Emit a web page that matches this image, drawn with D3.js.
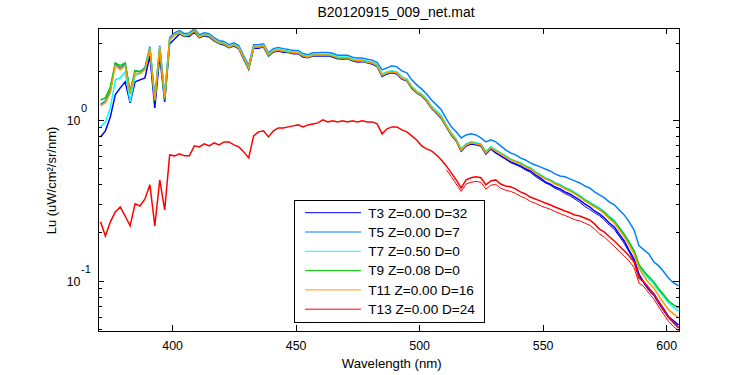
<!DOCTYPE html>
<html><head><meta charset="utf-8">
<script src="https://cdn.jsdelivr.net/npm/d3@7"></script>
<style>
body{margin:0;background:#fff}
svg{display:block}
text{font-family:"Liberation Sans",Arial,sans-serif;fill:#000}
</style>
</head><body>
<svg id="chart" width="750" height="375"></svg>
<script>
// ---------------- DATA ----------------
const wavelengths = [371,373,375,377,379,381,383,385,387,389,391,393,395,397,399,401,403,405,407,409,
411,413,415,417,419,421,423,425,427,429,431,433,435,437,439,441,443,445,447,449,
451,453,455,457,459,461,463,465,467,469,471,473,475,477,479,481,483,485,487,489,
491,493,495,497,499,501,503,505,507,509,511,513,515,517,519,521,523,525,527,529,
531,533,535,537,539,541,543,545,547,549,551,553,555,557,559,561,563,565,567,569,
571,573,575,577,579,581,583,585,587,589,591,593,595,597,599,601,603,605];

const seriesNames = ["T3 Z=0.00 D=32","T5 Z=0.00 D=7","T7 Z=0.50 D=0","T9 Z=0.08 D=0","T11 Z=0.00 D=16","T13 Z=0.00 D=24"];

const t3 = [0.784,0.855,1.044,1.430,1.580,1.722,1.275,1.722,1.772,1.824,
2.497,1.187,2.497,1.294,2.965,3.18,
3.42,3.29,3.31,3.50,3.24,3.33,3.27,3.10,2.98,2.92,
2.81,2.87,2.77,2.38,2.06,2.80,2.79,2.84,2.49,2.64,
2.68,2.63,2.62,2.57,2.58,2.46,2.43,2.49,2.50,2.49,
2.50,2.46,2.40,2.39,2.40,2.33,2.29,2.30,2.26,2.22,
2.14,1.86,1.93,1.96,1.93,1.79,1.75,1.57,1.47,1.41,
1.31,1.18,1.10,1.02,0.905,0.806,0.740,0.640,0.689,0.709,
0.700,0.689,0.614,0.660,
0.624,0.598,0.572,0.548,0.533,0.518,0.497,0.482,0.456,0.436,
0.412,0.400,0.383,0.373,0.357,0.347,0.332,0.318,0.301,0.288,
0.272,0.261,0.246,0.229,0.216,0.195,0.177,
0.155,0.137,
0.110,0.098,0.0892,0.0831,0.0741,0.0670,
0.0598,0.0565,0.0533];

const t5 = [1.25,1.31,1.52,2.24,2.10,2.24,1.49,2.02,1.99,2.11,
2.85,1.37,2.88,1.41,3.24,3.47,3.58,3.43,3.47,3.68,
3.38,3.47,3.43,3.24,3.10,3.07,2.93,3.01,2.89,2.50,
2.17,2.93,2.93,2.97,2.61,2.77,2.81,2.77,2.74,2.70,
2.70,2.58,2.54,2.61,2.61,2.62,2.62,2.59,2.52,2.52,
2.52,2.45,2.42,2.42,2.38,2.35,2.27,
2.045,2.104,2.165,2.134,2.016,1.958,1.772,1.65,1.558,1.450,
1.33,1.239,1.154,1.014,0.905,0.843,0.773,0.807,0.819,0.807,
0.773,0.730,0.751,0.730,0.690,0.651,0.624,0.606,0.581,0.564,
0.541,0.525,0.511,0.496,0.482,0.462,0.449,0.443,0.430,0.418,
0.406,0.389,0.378,0.357,0.342,0.328,0.309,0.297,0.276,0.257,
0.233,0.207,0.165,0.156,0.147,0.131,0.124,0.114,0.104,0.0972,0.0934];

const t7 = [0.905,0.972,1.187,1.772,1.824,1.987,1.294,1.876,
1.96,2.08,2.79,1.35,2.83,1.39,3.17,3.40,3.50,3.37,
3.40,3.60,3.31,3.40,3.37,3.17,3.04,3.00,2.87,2.95,
2.83,2.45,2.13,2.87,2.87,2.91,2.56,2.71,2.75,2.71,
2.68,2.64,2.64,2.53,2.49,2.56,2.56,2.56,2.56,2.53,
2.46,2.46,2.46,2.39,2.36,2.36,2.32,2.29,2.20,1.93,
1.99,2.02,1.99,1.85,1.80,1.62,1.51,1.45,1.35,1.22,
1.14,1.06,0.932,0.831,0.763,0.661,0.710,0.731,0.721,0.710,
0.634,0.681,0.652,0.625,0.598,0.573,0.557,0.542,0.520,0.505,
0.477,0.457,0.438,0.426,0.408,0.397,0.381,0.370,0.355,0.340,
0.322,0.309,0.296,0.284,0.269,0.251,0.237,0.215,0.196,0.175,
0.154,
0.124,0.112,0.103,0.0956,0.0867,0.0797,0.073,0.0688,0.0651];

const t9 = [1.33,1.37,1.60,2.26,2.17,2.26,1.49,2.02,1.99,2.07,2.76,1.31,2.76,1.33,
3.13,3.36,3.46,3.32,3.36,3.56,3.27,3.36,3.32,3.13,
3.00,2.96,2.83,2.91,2.79,2.41,2.07,2.83,2.83,2.87,
2.51,2.67,2.71,2.67,2.64,2.60,2.60,2.49,2.44,2.52,
2.52,2.52,2.52,2.49,2.42,2.42,2.42,2.35,2.32,2.32,
2.28,2.25,2.16,1.88,1.95,1.98,1.95,1.81,1.76,1.59,
1.48,1.42,1.32,1.19,1.11,1.03,0.912,0.814,0.747,0.645,
0.701,0.723,0.713,0.702,0.624,0.673,0.645,0.618,0.592,0.567,
0.551,0.536,0.514,0.499,0.472,0.452,0.433,0.421,0.403,0.392,
0.376,0.365,0.350,0.335,0.317,0.304,0.291,0.279,
0.266,0.248,0.234,0.213,0.194,0.173,0.154,
0.126,0.115,0.106,0.0986,0.0892,0.082,0.0751,0.071,0.068];

const t11 = [1.22,1.28,1.47,2.17,2.05,2.17,1.45,1.96,1.93,2.05,
2.76,1.33,2.80,1.37,3.14,3.37,3.47,3.33,3.37,3.57,
3.28,3.37,3.33,3.14,3.01,2.97,2.84,2.92,2.80,2.43,
2.10,2.84,2.84,2.88,2.53,2.68,2.72,2.68,2.65,2.61,
2.61,2.50,2.46,2.53,2.53,2.53,2.53,2.50,2.43,2.43,
2.43,2.36,2.33,2.33,2.29,2.26,2.17,1.90,1.96,1.99,
1.96,1.82,1.77,1.60,1.49,1.43,1.33,1.20,1.12,1.04,
0.918,0.819,0.751,0.651,0.699,0.720,0.710,0.699,0.624,0.670,
0.642,0.615,0.589,0.564,0.548,0.533,0.511,0.496,0.469,0.449,
0.430,0.418,0.400,0.389,0.373,0.362,0.347,0.332,0.314,0.301,
0.288,0.276,0.261,0.243,0.229,0.207,0.188,0.167,0.147,0.120,
0.107,0.0972,0.0905,0.0807,0.0730,0.0661,0.0624,0.0589];

const t13 = [0.233,0.190,0.233,0.268,0.288,0.253,0.220,0.301,0.292,0.323,
0.395,0.220,0.424,0.276,0.606,0.598,0.615,0.598,0.598,0.690,
0.680,0.710,0.690,0.720,0.699,0.730,0.730,0.699,0.680,0.633,
0.581,0.796,0.843,0.855,0.784,0.855,0.892,0.892,0.905,0.918,
0.931,0.905,0.931,0.944,0.958,1.000,0.972,0.986,0.972,0.986,
0.972,0.986,0.972,0.986,0.972,0.972,0.944,0.819,0.880,0.905,
0.905,0.867,0.843,0.796,0.751,0.690,0.661,0.642,0.606,0.564,
0.518,0.469,0.424,0.378,0.424,0.437,0.443,0.437,0.395,0.418,
0.424,0.400,0.389,0.384,0.373,0.357,0.347,0.332,0.323,0.314,
0.305,0.297,0.288,0.280,0.272,0.265,0.257,0.253,0.246,0.239,
0.226,0.210,0.201,0.188,0.177,0.165,0.154,0.143,0.131,0.104,
0.0986,0.0905,0.0831,0.0741,0.0661,0.0598,0.0548,0.0510];

// second casts (repeat profiles) visible at the long-wavelength end
const t3Repeat = [0.625,0.597,0.570,0.544,0.527,0.511,0.489,0.473,0.446,0.426,
0.407,0.394,0.376,0.365,0.349,0.338,0.323,0.308,0.291,0.278,
0.265,0.254,0.239,0.222,0.209,0.189,0.171,
0.151,0.133,
0.108,0.0962,0.0871,0.0809,0.0720,0.0649,
0.0586,0.0552,0.0520];
const t13Repeat = [0.49,0.445,0.40,0.36,0.40,0.41,0.415,0.41,0.372,0.393,
0.398,0.376,0.366,0.36,0.35,0.336,0.326,0.312,0.304,0.294,
0.286,0.279,0.27,0.262,0.255,0.248,0.24,0.236,0.229,0.222,
0.21,0.196,0.187,0.175,0.164,0.153,0.143,0.133,0.121,0.097,
0.092,0.084,0.077,0.069,0.062,0.056,0.052,0.049];
const t3RepeatStart = 531;
const t13RepeatStart = 511;

const xTicks = [400,450,500,550,600];
const yMajorTicks = [0.1,1];
const yMajorExp = ["-1","0"];
const yMinorTicks = [0.05,0.06,0.07,0.08,0.09,0.2,0.3,0.4,0.5,0.6,0.7,0.8,0.9,2,3];

// ---------------- CHART ----------------
const colors = ["#0000ff","#0080ff","#00ffff","#00cc00","#ff9900","#ff0000"];
const seriesValues = [t3,t5,t7,t9,t11,t13];

const L=98, T=28, R=679.3, B=331;
const x = d3.scaleLinear().domain([370,605.3]).range([L,R]);
const y = d3.scaleLog().domain([0.0489,3.72]).range([B,T]);

const svg = d3.select("#chart");
svg.append("rect").attr("width",750).attr("height",375).attr("fill","#fff");

svg.append("defs").append("clipPath").attr("id","clip")
  .append("rect").attr("x",L).attr("y",T).attr("width",R-L).attr("height",B-T);

const line = d3.line().x(d=>x(d[0])).y(d=>y(d[1]));
const pairs = (wl, vals) => vals.map((v,i)=>[wl[i],v]);

const plot = svg.append("g").attr("clip-path","url(#clip)");
const wl3 = wavelengths.slice(wavelengths.indexOf(t3RepeatStart));
const wl13 = wavelengths.slice(wavelengths.indexOf(t13RepeatStart));

seriesValues.forEach((vals,i)=>{
  if(i===0){
    plot.append("path").attr("d",line(pairs(wl3,t3Repeat)))
      .attr("fill","none").attr("stroke",colors[0]).attr("stroke-width",1);
  }
  if(i===5){
    plot.append("path").attr("d",line(pairs(wl13,t13Repeat)))
      .attr("fill","none").attr("stroke",colors[5]).attr("stroke-width",1);
  }
  plot.append("path").attr("d",line(pairs(wavelengths,vals)))
    .attr("fill","none").attr("stroke",colors[i]).attr("stroke-width",1.5)
    .attr("stroke-linejoin","miter");
});

// axes ticks (inward)
const font = '"Liberation Sans",Arial,sans-serif';
function styleAxis(g){
  g.select(".domain").remove();
  g.selectAll("line").attr("stroke","#000").attr("shape-rendering","crispEdges");
  g.attr("font-family",font);
}
svg.append("g").attr("transform",`translate(0,${B})`)
  .call(d3.axisBottom(x).tickValues(xTicks).tickSizeInner(-6).tickSizeOuter(0).tickPadding(10))
  .call(styleAxis)
  .call(g=>g.selectAll("text").attr("font-size",12.4).attr("fill","#000"));
svg.append("g").attr("transform",`translate(0,${T})`)
  .call(d3.axisTop(x).tickValues(xTicks).tickSizeInner(-6).tickSizeOuter(0).tickFormat(""))
  .call(styleAxis);
svg.append("g").attr("transform",`translate(${L},0)`)
  .call(d3.axisLeft(y).tickValues(yMajorTicks).tickSizeInner(-6).tickSizeOuter(0).tickFormat(""))
  .call(styleAxis);
svg.append("g").attr("transform",`translate(${L},0)`)
  .call(d3.axisLeft(y).tickValues(yMinorTicks).tickSizeInner(-3.7).tickSizeOuter(0).tickFormat(""))
  .call(styleAxis);
svg.append("g").attr("transform",`translate(${R},0)`)
  .call(d3.axisRight(y).tickValues(yMajorTicks).tickSizeInner(-6).tickSizeOuter(0).tickFormat(""))
  .call(styleAxis);
svg.append("g").attr("transform",`translate(${R},0)`)
  .call(d3.axisRight(y).tickValues(yMinorTicks).tickSizeInner(-3.7).tickSizeOuter(0).tickFormat(""))
  .call(styleAxis);

// y tick labels with exponent
yMajorTicks.forEach((v,i)=>{
  const yy = y(v);
  svg.append("text").attr("x",80.5).attr("y",yy+5).attr("text-anchor","end")
    .attr("font-size",12.4).text("10");
  svg.append("text").attr("x",81).attr("y",yy-8).attr("text-anchor","start")
    .attr("font-size",11).text(yMajorExp[i]);
});

// box
svg.append("rect").attr("x",L).attr("y",T).attr("width",R-L).attr("height",B-T)
  .attr("fill","none").attr("stroke","#000").attr("stroke-width",1).attr("shape-rendering","crispEdges");

// title and labels
svg.append("text").attr("x",396).attr("y",17.3).attr("text-anchor","middle")
  .attr("font-size",14).text("B20120915_009_net.mat");
svg.append("text").attr("x",391.7).attr("y",368).attr("text-anchor","middle")
  .attr("font-size",13.2).text("Wavelength (nm)");
svg.append("text").attr("transform","translate(55.5,180.5) rotate(-90)")
  .attr("text-anchor","middle").attr("font-size",13).text("Lu (uW/cm²/sr/nm)");

// legend
const lg = svg.append("g");
lg.append("rect").attr("x",294).attr("y",200.7).attr("width",190.7).attr("height",121.3)
  .attr("fill","#fff").attr("stroke","#000").attr("stroke-width",1).attr("shape-rendering","crispEdges");
seriesNames.forEach((name,i)=>{
  const yy = 212.7 + i*19.3;
  lg.append("line").attr("x1",305).attr("x2",361).attr("y1",yy).attr("y2",yy)
    .attr("stroke",colors[i]).attr("stroke-width",1);
  lg.append("text").attr("x",368.3).attr("y",yy+4.8).attr("font-size",13.6).text(name);
});
</script>
</body></html>
